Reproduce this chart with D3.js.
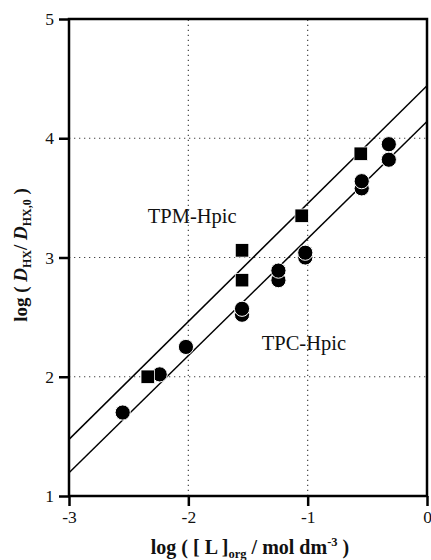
<!DOCTYPE html>
<html>
<head>
<meta charset="utf-8">
<script src="https://cdn.jsdelivr.net/npm/d3@7"></script>
<style>
  body { margin: 0; background: #fff; }
  text { font-family: "Liberation Serif", "Times New Roman", serif; fill: #111; }
</style>
</head>
<body>
<script>
const w = 431;
const h = 560;
const margin = {top: 19, right: 4, bottom: 64, left: 69};

// TPM-Hpic (squares)
const tpmX = [-2.34, -1.55, -1.55, -1.05, -0.555];
const tpmY = [2.00, 2.81, 3.06, 3.35, 3.87];

// TPC-Hpic (circles)
const tpcX = [-2.55, -2.24, -2.02, -1.55, -1.55, -1.245, -1.245, -1.02, -1.02, -0.547, -0.547, -0.32, -0.32];
const tpcY = [1.70, 2.02, 2.25, 2.52, 2.57, 2.81, 2.89, 3.00, 3.04, 3.58, 3.64, 3.82, 3.95];

// fitted lines (ends at x = -3 and x = 0)
const fitX = [-3, 0];
const tpmFit = [1.475, 4.44];
const tpcFit = [1.195, 4.14];

const xTicks = [-3, -2, -1, 0];
const xTickLabels = ["-3", "-2", "-1", "0"];
const yTicks = [1, 2, 3, 4, 5];
const yTickLabels = ["1", "2", "3", "4", "5"];
const xGrid = [-2, -1];
const yGrid = [2, 3, 4];

let svg = d3.select("body")
  .append("svg")
  .attr("width", w)
  .attr("height", h);

let xScale = d3.scaleLinear().domain([-3, 0]).range([margin.left, w - margin.right]);
let yScale = d3.scaleLinear().domain([1, 5]).range([h - margin.bottom, margin.top]);

svg.append("clipPath").attr("id", "plot-clip")
  .append("rect")
  .attr("x", xScale(-3)).attr("y", yScale(5))
  .attr("width", xScale(0) - xScale(-3))
  .attr("height", yScale(1) - yScale(5));

// dotted grid
svg.append("g").selectAll("line")
  .data(xGrid).enter().append("line")
  .attr("x1", d => xScale(d)).attr("x2", d => xScale(d))
  .attr("y1", yScale(1)).attr("y2", yScale(5))
  .attr("stroke", "#444").attr("stroke-width", 1.2)
  .attr("stroke-dasharray", "1.3,3.7");
svg.append("g").selectAll("line")
  .data(yGrid).enter().append("line")
  .attr("x1", xScale(-3)).attr("x2", xScale(0))
  .attr("y1", d => yScale(d)).attr("y2", d => yScale(d))
  .attr("stroke", "#444").attr("stroke-width", 1.2)
  .attr("stroke-dasharray", "1.3,3.7");

// fit lines
let line = d3.line().x(d => xScale(d[0])).y(d => yScale(d[1]));
[tpmFit, tpcFit].forEach(fit => {
  svg.append("path")
    .datum(fitX.map((x, i) => [x, fit[i]]))
    .attr("d", line)
    .attr("clip-path", "url(#plot-clip)")
    .attr("fill", "none")
    .attr("stroke", "#000")
    .attr("stroke-width", 1.5);
});

// circles
svg.append("g").selectAll("circle")
  .data(tpcX.map((x, i) => [x, tpcY[i]]))
  .enter().append("circle")
  .attr("cx", d => xScale(d[0]))
  .attr("cy", d => yScale(d[1]))
  .attr("r", 7.6)
  .attr("fill", "#000")
  .attr("stroke", "#fff")
  .attr("stroke-width", 1);

// squares
const sq = 13.5;
svg.append("g").selectAll("rect")
  .data(tpmX.map((x, i) => [x, tpmY[i]]))
  .enter().append("rect")
  .attr("x", d => xScale(d[0]) - sq / 2)
  .attr("y", d => yScale(d[1]) - sq / 2)
  .attr("width", sq).attr("height", sq)
  .attr("fill", "#000")
  .attr("stroke", "#fff")
  .attr("stroke-width", 0.8);

// series labels
svg.append("text")
  .attr("x", xScale(-2.34)).attr("y", yScale(3.29))
  .attr("font-size", 20.5)
  .text("TPM-Hpic");
svg.append("text")
  .attr("x", xScale(-1.385)).attr("y", yScale(2.224))
  .attr("font-size", 20.5)
  .text("TPC-Hpic");

// axes
let xAxis = d3.axisBottom(xScale)
  .tickValues(xTicks)
  .tickFormat((d, i) => xTickLabels[i])
  .tickSize(10).tickPadding(5);
let gx = svg.append("g")
  .attr("transform", "translate(0," + yScale(1) + ")")
  .call(xAxis);

let yAxis = d3.axisLeft(yScale)
  .tickValues(yTicks)
  .tickFormat((d, i) => yTickLabels[i])
  .tickSize(10).tickPadding(5);
let gy = svg.append("g")
  .attr("transform", "translate(" + xScale(-3) + ",0)")
  .call(yAxis);

[gx, gy].forEach(g => {
  g.select(".domain").remove();
  g.selectAll(".tick line").attr("stroke", "#000").attr("stroke-width", 2.5);
  g.selectAll(".tick text")
    .attr("font-family", "Liberation Serif")
    .attr("font-size", 17.5)
    .attr("fill", "#111");
});

// frame
svg.append("rect")
  .attr("x", xScale(-3)).attr("y", yScale(5))
  .attr("width", xScale(0) - xScale(-3))
  .attr("height", yScale(1) - yScale(5))
  .attr("fill", "none")
  .attr("stroke", "#000")
  .attr("stroke-width", 2.5);

// x axis title
let xt = svg.append("text")
  .attr("x", (xScale(-3) + xScale(0)) / 2 + 2)
  .attr("y", 554)
  .attr("text-anchor", "middle")
  .attr("font-size", 20)
  .attr("font-weight", "bold");
xt.append("tspan").text("log ( [ L ]");
xt.append("tspan").attr("font-size", 12.5).attr("dy", 4).text("org");
xt.append("tspan").attr("dy", -4).text(" / mol dm");
xt.append("tspan").attr("font-size", 12.5).attr("dy", -8).text("-3");
xt.append("tspan").attr("dy", 8).text(" )");

// y axis title
let yt = svg.append("text")
  .attr("transform", "translate(27," + 255 + ") rotate(-90)")
  .attr("text-anchor", "middle")
  .attr("font-size", 19)
  .attr("font-weight", "bold");
yt.append("tspan").text("log ( ");
yt.append("tspan").attr("font-style", "italic").text("D");
yt.append("tspan").attr("font-size", 12).attr("dy", 4).text("HX");
yt.append("tspan").attr("dy", -4).text("/ ");
yt.append("tspan").attr("font-style", "italic").text("D");
yt.append("tspan").attr("font-size", 12).attr("dy", 4).text("HX,0");
yt.append("tspan").attr("dy", -4).text(" )");
</script>
</body>
</html>
